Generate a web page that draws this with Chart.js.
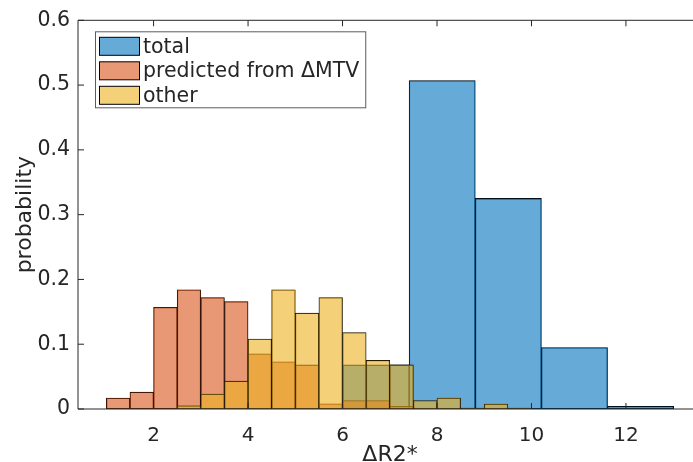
<!DOCTYPE html>
<html>
<head>
<meta charset="utf-8">
<script src="https://cdn.jsdelivr.net/npm/chart.js@4.4.0/dist/chart.umd.min.js"></script>
<style>
    html, body { margin: 0; padding: 0; background: #fff; overflow: hidden; }
</style>
</head>
<body>
<!-- the original figure is cut off on the right, so the canvas is a bit wider than the window -->
<canvas id="grafico" width="702" height="462"></canvas>
<script>
// bins of the "total" histogram (centres, width ~1.4)
const totalCenters = [1.10, 2.50, 3.91, 5.31, 6.71, 8.11, 9.51, 10.91, 12.31]
const totalValues = [0, 0, 0, 0, 0.068, 0.507, 0.325, 0.095, 0.004]

// bins of width 0.5, shared by the two other histograms
const fineCenters = [1.25, 1.75, 2.25, 2.75, 3.25, 3.75, 4.25, 4.75, 5.25, 5.75, 6.25, 6.75, 7.25, 7.75, 8.25, 8.75, 9.25, 9.75]
const predictedValues = [0.017, 0.026, 0.157, 0.184, 0.172, 0.166, 0.085, 0.073, 0.068, 0.008, 0.013, 0.013, 0.004, 0, 0, 0, 0, 0]
const otherValues = [0, 0, 0, 0.005, 0.023, 0.043, 0.108, 0.184, 0.148, 0.172, 0.118, 0.075, 0.068, 0.013, 0.017, 0.0015, 0.0077, 0.0015]

const seriesLabels = ["total", "predicted from \u0394MTV", "other"]
const xTicks = [2, 4, 6, 8, 10, 12]
const yTicks = [0, 0.1, 0.2, 0.3, 0.4, 0.5, 0.6]
const xRange = [0.40, 13.61]

const textColor = "rgb(38,38,38)"
const fontFamily = "'DejaVu Sans', sans-serif"

function toPoints(centers, values) {
    return centers.map((c, i) => ({ x: c, y: values[i] }))
}

function histDataset(label, centers, values, color, axis, order) {
    return {
        label: label,
        data: toPoints(centers, values),
        backgroundColor: color,
        borderColor: "#000",
        borderWidth: 0.6,
        borderSkipped: false,
        barPercentage: 1,
        categoryPercentage: 1,
        grouped: false,
        xAxisID: axis,
        order: order
    }
}

// box with inward tick marks, like the original axes (right side is cut off)
const frame = {
    id: "frame",
    afterDraw(chart) {
        const { ctx, chartArea: a, scales } = chart
        ctx.save()
        ctx.strokeStyle = textColor
        ctx.lineWidth = 1
        ctx.beginPath()
        ctx.moveTo(a.right, a.top)
        ctx.lineTo(a.left, a.top)
        ctx.lineTo(a.left, a.bottom)
        ctx.lineTo(a.right, a.bottom)
        scales.x.ticks.forEach(t => {
            const px = scales.x.getPixelForValue(t.value)
            ctx.moveTo(px, a.bottom)
            ctx.lineTo(px, a.bottom - 6)
            ctx.moveTo(px, a.top)
            ctx.lineTo(px, a.top + 6)
        })
        scales.y.ticks.forEach(t => {
            const py = scales.y.getPixelForValue(t.value)
            ctx.moveTo(a.left, py)
            ctx.lineTo(a.left + 6, py)
        })
        ctx.stroke()
        ctx.restore()
    }
}

// legend box in the upper left corner of the plot
const boxLegend = {
    id: "boxLegend",
    afterDraw(chart) {
        const { ctx, chartArea: a } = chart
        const sets = chart.data.datasets
        ctx.save()
        ctx.font = "20.5px " + fontFamily
        const textWidth = Math.max(...sets.map(d => ctx.measureText(d.label).width))
        const x0 = a.left + 17
        const y0 = a.top + 11
        const w = 48 + textWidth + 6
        const h = 76
        ctx.fillStyle = "#fff"
        ctx.fillRect(x0, y0, w, h)
        ctx.strokeStyle = "rgba(38,38,38,0.75)"
        ctx.lineWidth = 1
        ctx.strokeRect(x0 + 0.5, y0 + 0.5, w, h)
        sets.forEach((d, i) => {
            const cy = y0 + 15 + i * 24.5
            ctx.fillStyle = d.backgroundColor
            ctx.fillRect(x0 + 4.5, cy - 9, 40, 18)
            ctx.strokeStyle = "#000"
            ctx.strokeRect(x0 + 4.5, cy - 9, 40, 18)
            ctx.fillStyle = textColor
            ctx.textBaseline = "middle"
            ctx.textAlign = "left"
            ctx.fillText(d.label, x0 + 48, cy + 1)
        })
        ctx.restore()
    }
}

new Chart(document.getElementById("grafico"), {
    type: "bar",
    data: {
        datasets: [
            histDataset(seriesLabels[0], totalCenters, totalValues, "rgba(0,114,189,0.6)", "xTotal", 3),
            histDataset(seriesLabels[1], fineCenters, predictedValues, "rgba(217,83,25,0.6)", "x", 2),
            histDataset(seriesLabels[2], fineCenters, otherValues, "rgba(237,177,32,0.6)", "x", 1)
        ]
    },
    options: {
        responsive: false,
        animation: false,
        devicePixelRatio: 1,
        layout: { padding: { top: 19, right: 0, left: 0, bottom: 0 } },
        plugins: {
            legend: { display: false },
            tooltip: { enabled: false }
        },
        scales: {
            x: {
                type: "linear",
                min: xRange[0],
                max: xRange[1],
                offset: false,
                grid: { display: false, drawTicks: false },
                border: { display: false },
                afterBuildTicks: s => { s.ticks = xTicks.map(v => ({ value: v })) },
                afterFit: s => { s.height = 53 },
                ticks: {
                    color: textColor,
                    font: { family: fontFamily, size: 20 },
                    padding: 14.5,
                    maxRotation: 0,
                    autoSkip: false
                },
                title: {
                    display: true,
                    text: "\u0394R2*",
                    color: textColor,
                    font: { family: fontFamily, size: 22 },
                    padding: { top: 0, bottom: -6 }
                }
            },
            xTotal: {
                type: "linear",
                display: false,
                min: xRange[0],
                max: xRange[1],
                offset: false,
                afterBuildTicks: s => { s.ticks = [{ value: s.min }, { value: s.max }] }
            },
            y: {
                min: yTicks[0],
                max: yTicks[yTicks.length - 1],
                grid: { display: false, drawTicks: false },
                border: { display: false },
                afterBuildTicks: s => { s.ticks = yTicks.map(v => ({ value: v })) },
                afterFit: s => { s.width = 78 },
                ticks: {
                    color: textColor,
                    font: { family: fontFamily, size: 20.5 },
                    padding: 8
                },
                title: {
                    display: true,
                    text: "probability",
                    color: textColor,
                    font: { family: fontFamily, size: 22 },
                    padding: { top: 12, bottom: 0 }
                }
            }
        }
    },
    plugins: [frame, boxLegend]
})
</script>
</body>
</html>
